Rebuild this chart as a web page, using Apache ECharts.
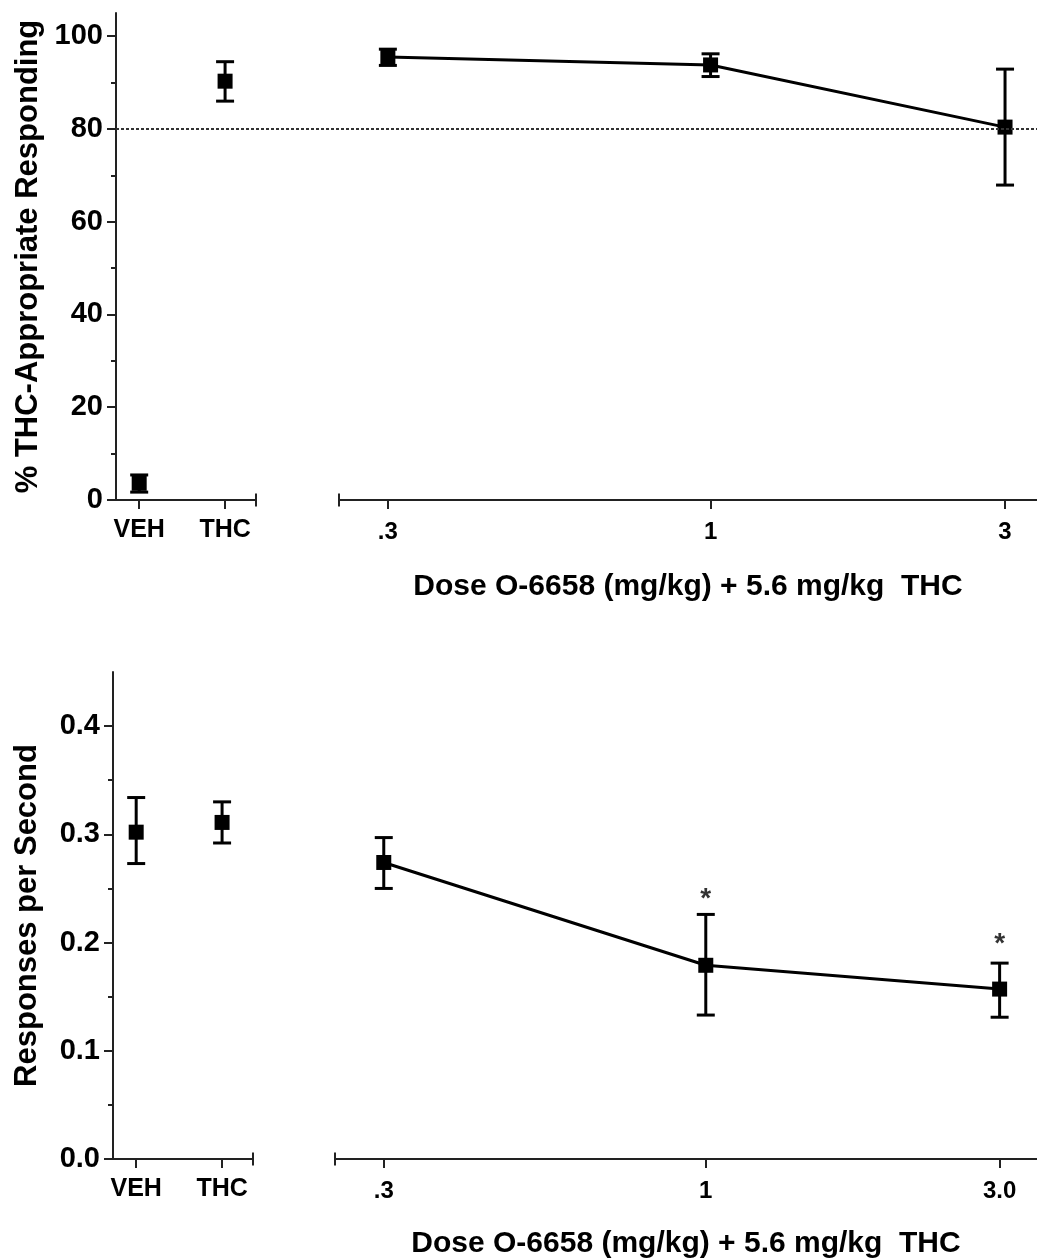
<!DOCTYPE html>
<html><head><meta charset="utf-8">
<script src="https://cdn.jsdelivr.net/npm/echarts@6/dist/echarts.min.js"></script>
<style>html,body{margin:0;padding:0;background:#fff}#c{width:1037px;height:1260px}</style>
</head><body><div id="c"></div>
<script>
// ---- categories / ticks ----
const groups = ['VEH', 'THC'];
const groupPos = [1, 2];
const doses = [0.3, 1, 3];
const doseLabelsTop = ['.3', '1', '3'];
const doseLabelsBottom = ['.3', '1', '3.0'];
const pctTicks = [0, 20, 40, 60, 80, 100];
const pctMinorTicks = [10, 30, 50, 70, 90];
const rateTicks = [0, 0.1, 0.2, 0.3, 0.4];
const rateMinorTicks = [0.05, 0.15, 0.25, 0.35];
const criterion = 80;

// ---- top panel: % THC-appropriate responding ----
const pctCtrlMean = [3.6, 90.3];
const pctCtrlLow = [1.7, 86.0];
const pctCtrlHigh = [5.4, 94.5];
const pctDoseMean = [95.5, 93.8, 80.4];
const pctDoseLow = [93.7, 91.3, 67.9];
const pctDoseHigh = [97.2, 96.2, 92.9];

// ---- bottom panel: responses per second ----
const rateCtrlMean = [0.302, 0.311];
const rateCtrlLow = [0.273, 0.292];
const rateCtrlHigh = [0.334, 0.330];
const rateDoseMean = [0.274, 0.179, 0.157];
const rateDoseLow = [0.250, 0.133, 0.131];
const rateDoseHigh = [0.297, 0.226, 0.181];
const rateDoseSig = [null, 0.246, 0.205]; // asterisk positions

const FONT = '"Liberation Sans", Arial, Helvetica, sans-serif';
const AX = '#222';

function errorBarItem(params, api) {
  const x = api.value(0);
  const lo = api.coord([x, api.value(1)]);
  const hi = api.coord([x, api.value(2)]);
  const w = 9;
  const style = { stroke: '#000', lineWidth: 3 };
  return { type: 'group', children: [
    { type: 'line', shape: { x1: lo[0], y1: lo[1], x2: hi[0], y2: hi[1] }, style },
    { type: 'line', shape: { x1: hi[0] - w, y1: hi[1], x2: hi[0] + w, y2: hi[1] }, style },
    { type: 'line', shape: { x1: lo[0] - w, y1: lo[1], x2: lo[0] + w, y2: lo[1] }, style }
  ]};
}
function findIdx(arr, v) { return arr.findIndex(d => Math.abs(d - v) < 1e-6); }

function groupAxis(grid, margin) {
  return {
    gridIndex: grid, type: 'value', min: 0.73, max: 2.36,
    axisLine: { lineStyle: { color: AX, width: 2 }, symbol: ['none', 'rect'], symbolSize: [13, 2] },
    axisTick: { customValues: groupPos, length: 9, lineStyle: { color: AX, width: 2 } },
    axisLabel: { customValues: groupPos, formatter: v => groups[findIdx(groupPos, v)], margin: margin,
      fontSize: 25, fontWeight: 'bold', color: '#000', fontFamily: FONT },
    splitLine: { show: false }
  };
}
function doseAxis(grid, labels, max, gap, margin) {
  return {
    gridIndex: grid, type: 'log', logBase: 10, min: 0.25, max: max,
    axisLine: { lineStyle: { color: AX, width: 2 }, symbol: ['rect', 'none'], symbolSize: [13, 2] },
    axisTick: { customValues: doses, length: 9, lineStyle: { color: AX, width: 2 } },
    axisLabel: { customValues: doses, formatter: v => labels[findIdx(doses, v)], margin: margin,
      fontSize: 24, fontWeight: 'bold', color: '#000', fontFamily: FONT },
    splitLine: { show: false }, minorTick: { show: false }, minorSplitLine: { show: false },
    name: 'Dose O-6658 (mg/kg) + 5.6 mg/kg  THC', nameLocation: 'middle', nameGap: gap,
    nameTextStyle: { fontSize: 30, fontWeight: 'bold', color: '#000', fontFamily: FONT }
  };
}
function majorY(grid, min, max, ticks, fmt, name, gap) {
  return {
    gridIndex: grid, type: 'value', min: min, max: max, position: 'left', offset: 0,
    axisLine: { show: true, lineStyle: { color: AX, width: 2 } },
    axisTick: { show: true, customValues: ticks, length: 9, lineStyle: { color: AX, width: 2 } },
    axisLabel: { customValues: ticks, formatter: fmt, margin: 13, fontSize: 29, fontWeight: 'bold',
      color: '#000', fontFamily: FONT },
    splitLine: { show: false },
    name: name, nameLocation: 'middle', nameRotate: 90, nameGap: gap,
    nameTextStyle: { fontSize: 31, fontWeight: 'bold', color: '#000', fontFamily: FONT }
  };
}
function minorY(grid, min, max, ticks) {
  return {
    gridIndex: grid, type: 'value', min: min, max: max, position: 'left', offset: 0,
    axisLine: { show: false }, axisLabel: { show: false }, splitLine: { show: false },
    axisTick: { show: true, customValues: ticks, length: 5, lineStyle: { color: AX, width: 2 } }
  };
}
function hiddenY(grid, min, max) {
  return { gridIndex: grid, type: 'value', min: min, max: max, show: false, splitLine: { show: false } };
}

const chart = echarts.init(document.getElementById('c'), null, { renderer: 'canvas' });
chart.setOption({
  animation: false,
  backgroundColor: '#fff',
  grid: [
    { left: 116, top: 13, width: 140, height: 487 },
    { left: 339, top: 13, right: 0, height: 487 },
    { left: 116, top: 13, right: 0, height: 487 },
    { left: 113, top: 672, width: 140, height: 487 },
    { left: 335, top: 672, right: 0, height: 487 }
  ],
  xAxis: [
    groupAxis(0, 18),
    doseAxis(1, doseLabelsTop, 3.38, 72, 20),
    { gridIndex: 2, type: 'value', min: 0, max: 1, show: false },
    groupAxis(3, 18),
    doseAxis(4, doseLabelsBottom, 3.45, 70, 20)
  ],
  yAxis: [
    majorY(0, 0, 105, pctTicks, v => String(Math.round(v)), '% THC-Appropriate Responding', 72),
    minorY(0, 0, 105, pctMinorTicks),
    hiddenY(1, 0, 105),
    hiddenY(2, 0, 105),
    majorY(3, 0, 0.45, rateTicks, v => Number(v).toFixed(1), 'Responses per Second', 70),
    minorY(3, 0, 0.45, rateMinorTicks),
    hiddenY(4, 0, 0.45)
  ],
  series: [
    { type: 'line', xAxisIndex: 2, yAxisIndex: 3, data: [], silent: true,
      markLine: { silent: true, symbol: 'none', label: { show: false },
        lineStyle: { color: '#333', width: 2, type: [3, 2] }, data: [{ yAxis: criterion }] } },
    { type: 'custom', xAxisIndex: 0, yAxisIndex: 0, renderItem: errorBarItem, encode: { x: 0, y: [1, 2] },
      data: groupPos.map((p, i) => [p, pctCtrlLow[i], pctCtrlHigh[i]]) },
    { type: 'scatter', xAxisIndex: 0, yAxisIndex: 0, symbol: 'rect', symbolSize: 15,
      itemStyle: { color: '#000', opacity: 1 },
      data: groupPos.map((p, i) => [p, pctCtrlMean[i]]) },
    { type: 'custom', xAxisIndex: 1, yAxisIndex: 2, renderItem: errorBarItem, encode: { x: 0, y: [1, 2] },
      data: doses.map((d, i) => [d, pctDoseLow[i], pctDoseHigh[i]]) },
    { type: 'line', xAxisIndex: 1, yAxisIndex: 2, symbol: 'rect', symbolSize: 15,
      lineStyle: { color: '#000', width: 3 }, itemStyle: { color: '#000', opacity: 1 },
      data: doses.map((d, i) => [d, pctDoseMean[i]]) },
    { type: 'custom', xAxisIndex: 3, yAxisIndex: 4, renderItem: errorBarItem, encode: { x: 0, y: [1, 2] },
      data: groupPos.map((p, i) => [p, rateCtrlLow[i], rateCtrlHigh[i]]) },
    { type: 'scatter', xAxisIndex: 3, yAxisIndex: 4, symbol: 'rect', symbolSize: 15,
      itemStyle: { color: '#000', opacity: 1 },
      data: groupPos.map((p, i) => [p, rateCtrlMean[i]]) },
    { type: 'custom', xAxisIndex: 4, yAxisIndex: 6, renderItem: errorBarItem, encode: { x: 0, y: [1, 2] },
      data: doses.map((d, i) => [d, rateDoseLow[i], rateDoseHigh[i]]) },
    { type: 'line', xAxisIndex: 4, yAxisIndex: 6, symbol: 'rect', symbolSize: 15,
      lineStyle: { color: '#000', width: 3 }, itemStyle: { color: '#000', opacity: 1 },
      data: doses.map((d, i) => [d, rateDoseMean[i]]) },
    { type: 'scatter', xAxisIndex: 4, yAxisIndex: 6, symbol: 'circle', symbolSize: 1,
      itemStyle: { color: 'rgba(0,0,0,0)' },
      label: { show: true, formatter: '*', position: 'inside', offset: [0, 7], fontSize: 28, fontWeight: 'bold', color: '#000', fontFamily: FONT },
      data: doses.map((d, i) => [d, rateDoseSig[i]]).filter(p => p[1] !== null) }
  ]
});
</script></body></html>
